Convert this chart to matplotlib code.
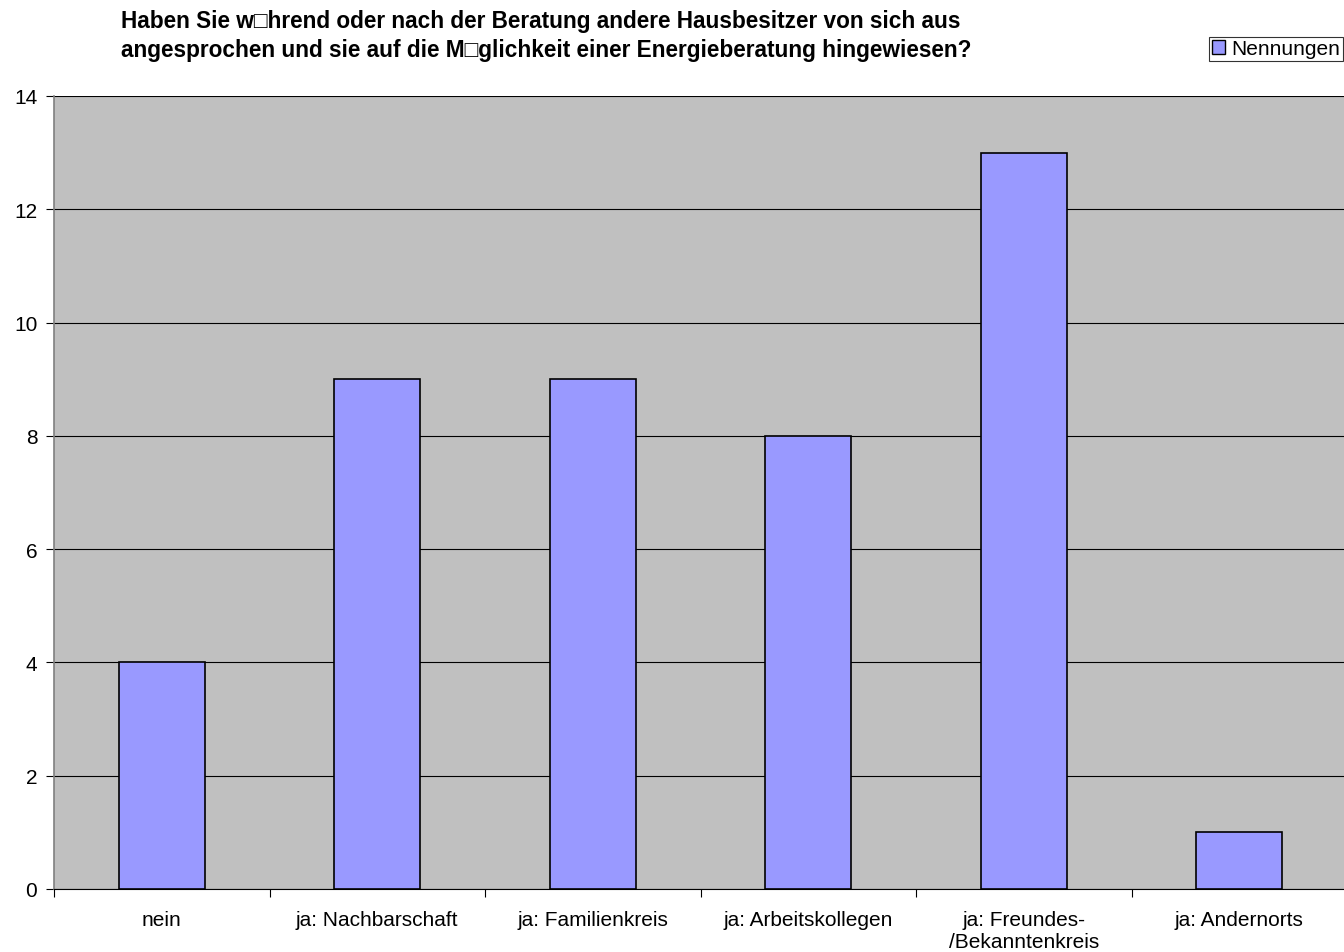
import matplotlib
matplotlib.use("Agg")
import matplotlib.pyplot as plt
from matplotlib.patches import Patch

plt.rcParams['font.family'] = ['Liberation Sans', 'DejaVu Sans']

categories = ["nein", "ja: Nachbarschaft", "ja: Familienkreis", "ja: Arbeitskollegen",
              "ja: Freundes-\n/Bekanntenkreis", "ja: Andernorts"]
values = [4, 9, 9, 8, 13, 1]
series_name = "Nennungen"
title = ("Haben Sie w\u25a1hrend oder nach der Beratung andere Hausbesitzer von sich aus\n"
         "angesprochen und sie auf die M\u25a1glichkeit einer Energieberatung hingewiesen?")
yticks = [0, 2, 4, 6, 8, 10, 12, 14]

W, H = 1344, 953
fig = plt.figure(figsize=(W / 100, H / 100), dpi=100)
left, right, top, bottom = 54, 1347, 97, 890
ax = fig.add_axes([left / W, 1 - bottom / H, (right - left) / W, (bottom - top) / H])
ax.set_facecolor("#C0C0C0")

x = list(range(len(categories)))
ax.bar(x, values, width=0.4, color="#9999FF", edgecolor="black", linewidth=1.2, zorder=3)

ax.set_xlim(-0.5, len(categories) - 0.5)
ax.set_ylim(0, 14)
ax.set_yticks(yticks)
ax.set_yticklabels([str(v) for v in yticks], fontsize=15)
ax.yaxis.grid(True, color="black", linewidth=0.8, zorder=1)
ax.set_axisbelow(True)

# category labels centred, tick marks on category boundaries
ax.set_xticks(x)
ax.set_xticklabels(categories, fontsize=15, linespacing=1.22)
ax.tick_params(axis="x", which="major", length=0, pad=15)
ax.set_xticks([i - 0.5 for i in range(len(categories) + 1)], minor=True)
ax.tick_params(axis="x", which="minor", length=6, color="black", width=0.8, direction="out")
ax.tick_params(axis="y", length=6, color="black", width=0.8, direction="out", pad=6)

for side in ("top", "right"):
    ax.spines[side].set_visible(False)
ax.spines["left"].set_color("#808080")
ax.spines["left"].set_linewidth(1.2)
ax.spines["bottom"].set_color("black")
ax.spines["bottom"].set_linewidth(0.8)

fig.text(121 / W, 1 - 10 / H, title, fontsize=16.3, fontweight="bold", va="top", ha="left",
         linespacing=1.33)

leg = fig.legend(handles=[Patch(facecolor="#9999FF", edgecolor="black", label=series_name)],
                 loc="upper left", bbox_to_anchor=(1209 / W, 1 - 38 / H), fontsize=15,
                 frameon=True, fancybox=False, edgecolor="black", handlelength=0.65,
                 handleheight=0.65, handletextpad=0.3, borderpad=0.12, borderaxespad=0)
leg.get_frame().set_linewidth(0.8)

fig.savefig("out.png", dpi=100)
